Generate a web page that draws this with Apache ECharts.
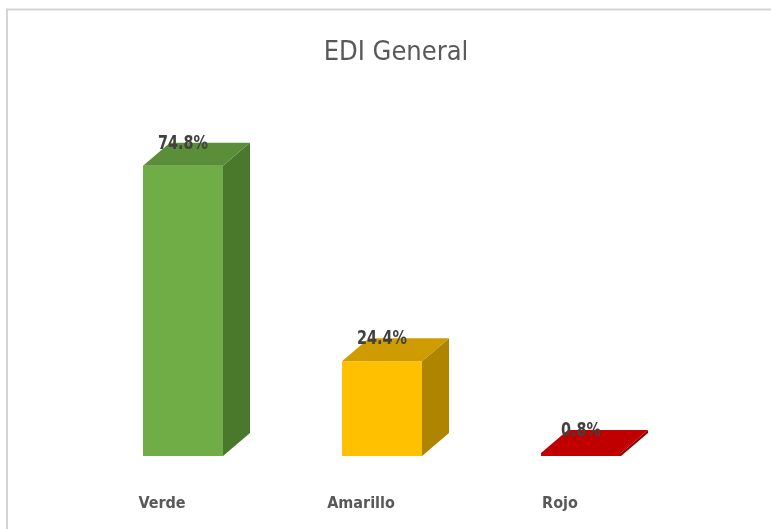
<!DOCTYPE html>
<html>
<head>
<meta charset="utf-8">
<script src="https://cdn.jsdelivr.net/npm/echarts@6/dist/echarts.min.js"></script>
<style>
  html, body { margin: 0; padding: 0; background: #ffffff; }
  #chart { width: 771px; height: 529px; }
</style>
</head>
<body>
<div id="chart"></div>
<script>
// EDI General: share of results per traffic-light level
const categories = ['Verde', 'Amarillo', 'Rojo'];
const values = [74.8, 24.4, 0.8];
const valueLabels = ['74.8%', '24.4%', '0.8%'];

// face colours for each block: front, top, side
const frontColors = ['#70AD47', '#FFC000', '#C00000'];
const topColors = ['#5B8E39', '#CF9C00', '#C00000'];
const sideColors = ['#4A782D', '#AF8400', '#8E0000'];

const FONT = '"DejaVu Sans Condensed", "DejaVu Sans", sans-serif';
const BAR_W = 80;     // width of the front face
const DEPTH_X = 27;   // oblique depth of the block
const DEPTH_Y = -23;

const chart = echarts.init(document.getElementById('chart'), null, { renderer: 'canvas' });

function renderBlock(params, api) {
  const idx = api.value(0);
  const val = api.value(1);
  const top = api.coord([idx, val]);
  const base = api.coord([idx, 0]);
  const x0 = top[0] - BAR_W / 2;
  const x1 = top[0] + BAR_W / 2;
  const yT = top[1];
  const yB = base[1];
  const i = params.dataIndex;
  return {
    type: 'group',
    children: [
      {
        type: 'polygon',
        shape: { points: [[x1, yB], [x1 + DEPTH_X, yB + DEPTH_Y], [x1 + DEPTH_X, yT + DEPTH_Y], [x1, yT]] },
        style: { fill: sideColors[i] }
      },
      {
        type: 'rect',
        shape: { x: x0, y: yT, width: BAR_W, height: yB - yT },
        style: { fill: frontColors[i] }
      },
      {
        type: 'polygon',
        shape: { points: [[x0, yT], [x1, yT], [x1 + DEPTH_X, yT + DEPTH_Y], [x0 + DEPTH_X, yT + DEPTH_Y]] },
        style: { fill: topColors[i] }
      },
      {
        type: 'text',
        x: top[0],
        y: yT - 22,
        scaleY: 1.2,
        style: {
          text: valueLabels[i],
          fill: '#404040',
          font: 'bold 16px ' + FONT,
          align: 'center',
          verticalAlign: 'middle'
        }
      }
    ]
  };
}

chart.setOption({
  backgroundColor: '#ffffff',
  animation: false,
  title: {
    text: 'EDI General',
    left: 391,
    textAlign: 'center',
    top: 34,
    textStyle: {
      fontFamily: FONT,
      fontSize: 27,
      fontWeight: 'normal',
      color: '#595959'
    }
  },
  graphic: [
    {
      type: 'rect',
      shape: { x: 7, y: 9.5, width: 800, height: 600 },
      style: { fill: 'none', stroke: '#D4D4D4', lineWidth: 2 },
      silent: true,
      z: -1
    }
  ],
  grid: { left: 83.5, right: 90.5, top: 68, bottom: 73 },
  xAxis: {
    type: 'category',
    data: categories,
    axisLine: { show: false },
    axisTick: { show: false },
    axisLabel: {
      margin: 38,
      lineHeight: 20,
      padding: [0, 42, 0, 0],
      fontFamily: FONT,
      fontSize: 16,
      fontWeight: 'bold',
      color: '#595959'
    }
  },
  yAxis: {
    type: 'value',
    min: 0,
    max: 100,
    show: false,
    splitLine: { show: false }
  },
  series: [
    {
      type: 'custom',
      renderItem: renderBlock,
      data: values.map((v, i) => [i, v]),
      encode: { x: 0, y: 1 },
      clip: false
    }
  ]
});
</script>
</body>
</html>
